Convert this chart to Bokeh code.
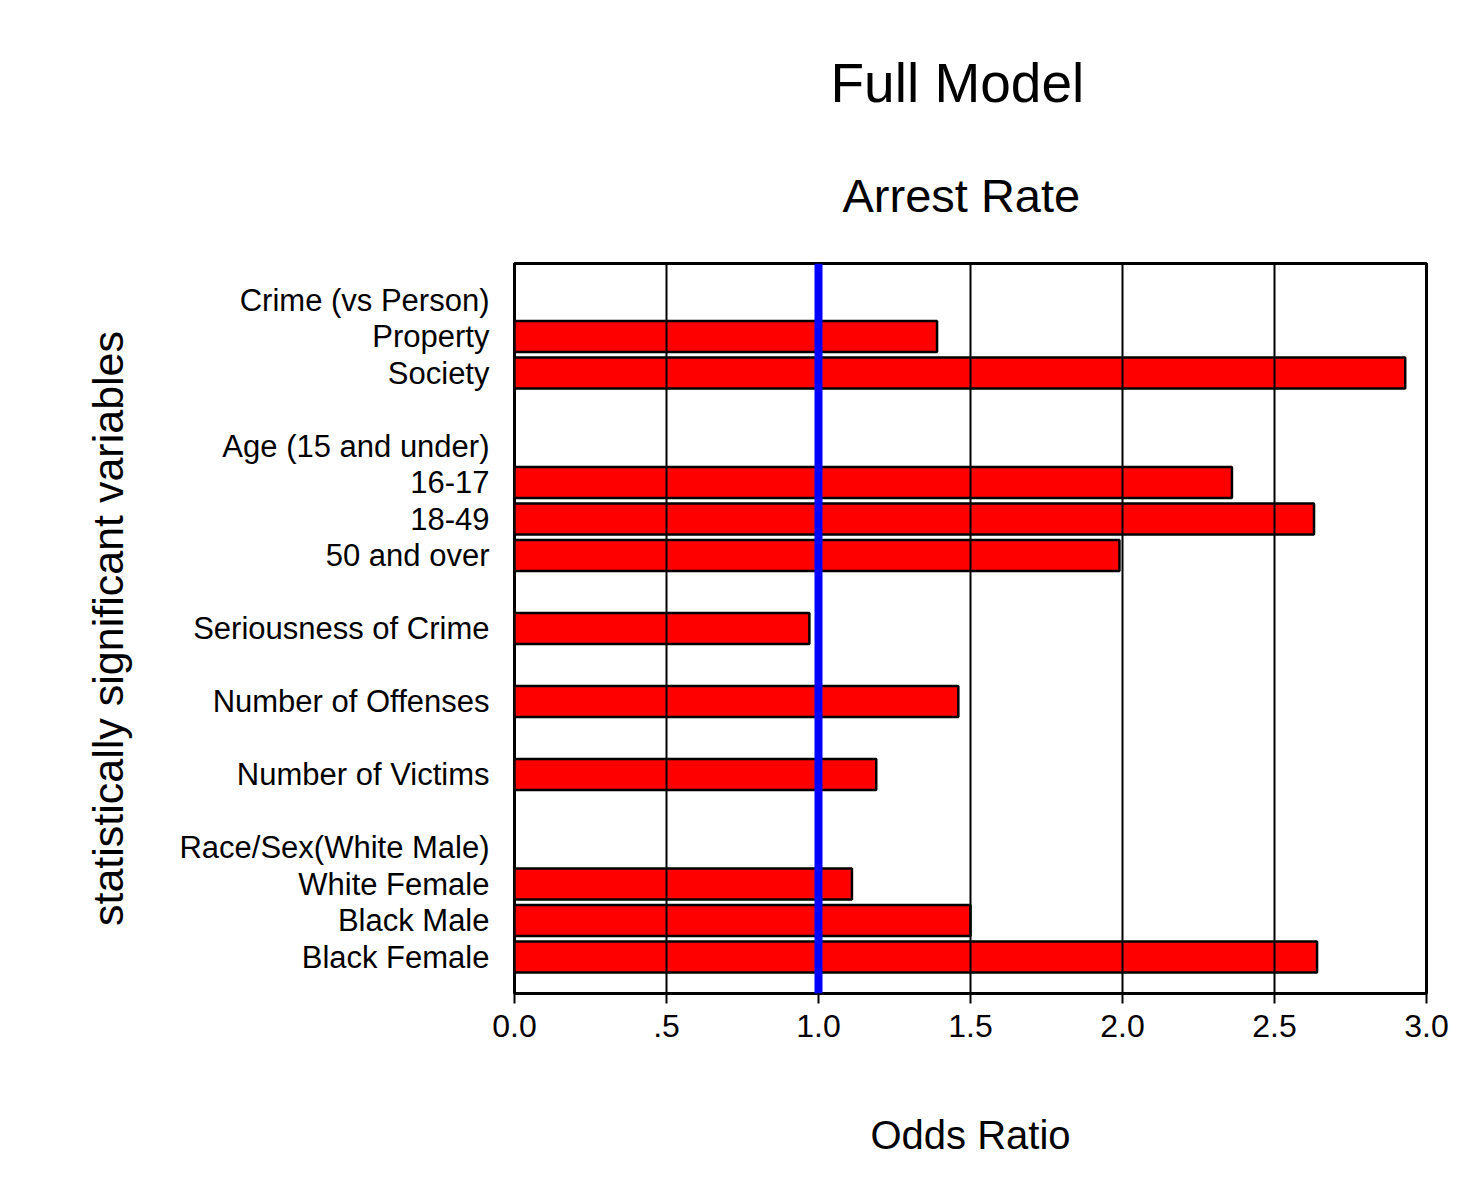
from bokeh.plotting import figure
from bokeh.models import Range1d, FixedTicker, Span, Title, ColumnDataSource
from bokeh.embed import file_html
from bokeh.resources import INLINE

# ---- data ----
row_labels = ["Crime (vs Person)", "Property", "Society", "",
              "Age (15 and under)", "16-17", "18-49", "50 and over", "",
              "Seriousness of Crime", "", "Number of Offenses", "",
              "Number of Victims", "",
              "Race/Sex(White Male)", "White Female", "Black Male", "Black Female"]
odds_ratio = [None, 1.39, 2.93, None,
              None, 2.36, 2.63, 1.99, None,
              0.97, None, 1.46, None,
              1.19, None,
              None, 1.11, 1.50, 2.64]
x_ticks = [0, 0.5, 1.0, 1.5, 2.0, 2.5, 3.0]
x_tick_text = ["0.0", ".5", "1.0", "1.5", "2.0", "2.5", "3.0"]
reference_line = 1.0

FONT = "Liberation Sans"

bar_rows = [i for i, v in enumerate(odds_ratio) if v is not None]
bar_vals = [odds_ratio[i] for i in bar_rows]
src = ColumnDataSource(data=dict(y=bar_rows, right=bar_vals))

p = figure(width=1453, height=1164,
           x_range=Range1d(0, 3), y_range=Range1d(len(row_labels), -1),
           output_backend="svg", toolbar_location=None,
           min_border_left=514, min_border_right=27,
           min_border_top=263, min_border_bottom=171,
           background_fill_color="white", border_fill_color="white",
           outline_line_color="black", outline_line_width=3)

p.hbar(y="y", left=0, right="right", height=0.85, source=src,
       fill_color="#FF0000", line_color="black", line_width=2.5)

# grid drawn over bars
p.ygrid.grid_line_color = None
p.xgrid.ticker = FixedTicker(ticks=x_ticks)
p.xgrid.grid_line_color = "black"
p.xgrid.grid_line_width = 2
p.xgrid.level = "annotation"

p.add_layout(Span(location=reference_line, dimension="height",
                  line_color="#0000FF", line_width=8, level="overlay"))

# titles (first = outermost)
p.title.text = "Full Model"
p.title.align = "left"
p.title.offset = 316
p.title.text_font = FONT
p.title.text_font_size = "55px"
p.title.text_font_style = "normal"
p.title.text_color = "black"
p.title.standoff = 21
p.add_layout(Title(text="Arrest Rate", align="left", offset=328,
                   text_font=FONT, text_font_size="47px",
                   text_font_style="normal", text_color="black",
                   standoff=84), "above")

# x axis
xa = p.xaxis[0]
xa.ticker = FixedTicker(ticks=x_ticks)
xa.major_label_overrides = {t: s for t, s in zip(x_ticks, x_tick_text)}
xa.axis_line_width = 3
xa.major_tick_out = 10
xa.major_tick_in = 0
xa.major_tick_line_width = 2
xa.minor_tick_line_color = None
xa.major_label_text_font = FONT
xa.major_label_text_font_size = "32px"
xa.major_label_text_color = "black"
xa.major_label_standoff = 11
xa.axis_label = "Odds Ratio"
xa.axis_label_text_font = FONT
xa.axis_label_text_font_size = "40px"
xa.axis_label_text_font_style = "normal"
xa.axis_label_text_color = "black"
xa.axis_label_standoff = 73

# y axis: row labels
ya = p.yaxis[0]
ya.ticker = FixedTicker(ticks=list(range(len(row_labels))))
ya.major_label_overrides = {i: s if s else " " for i, s in enumerate(row_labels)}
ya.axis_line_color = None
ya.major_tick_line_color = None
ya.minor_tick_line_color = None
ya.major_label_text_font = FONT
ya.major_label_text_font_size = "31px"
ya.major_label_text_color = "black"
ya.major_label_standoff = 19
ya.axis_label = "statistically significant variables"
ya.axis_label_text_font = FONT
ya.axis_label_text_font_size = "43px"
ya.axis_label_text_font_style = "normal"
ya.axis_label_text_color = "black"
ya.axis_label_standoff = 44

open("out.html", "w").write(file_html(p, INLINE))
